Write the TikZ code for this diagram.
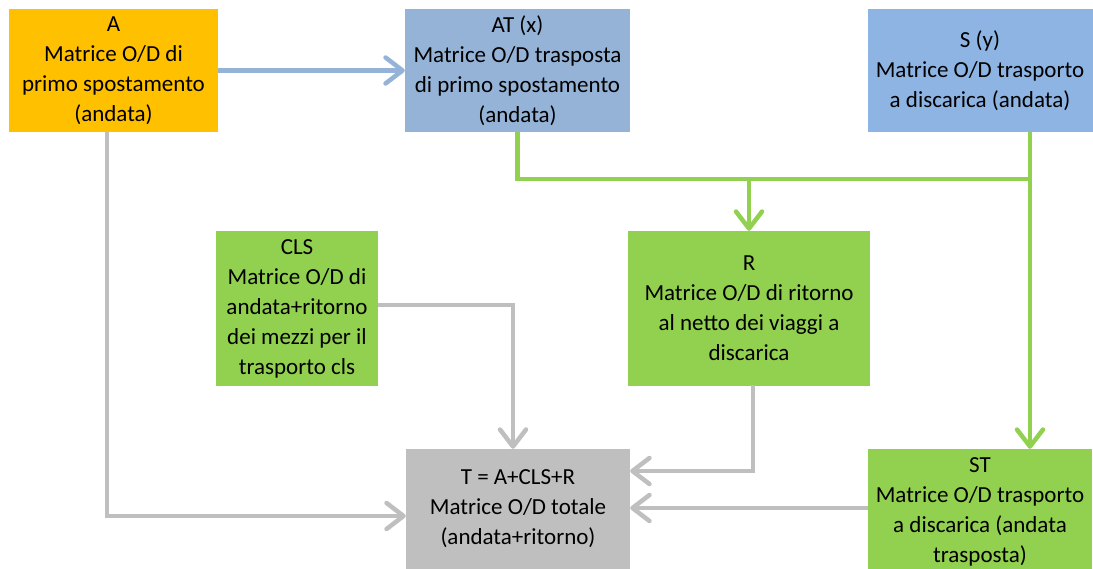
\documentclass[tikz,border=0pt]{standalone}
\usepackage{fontspec}
\setmainfont{Carlito}
\usetikzlibrary{arrows.meta}
\definecolor{cA}{HTML}{FFC000}
\definecolor{cAT}{HTML}{95B3D7}
\definecolor{cS}{HTML}{8DB4E2}
\definecolor{cG}{HTML}{92D050}
\definecolor{cGr}{HTML}{BFBFBF}
\tikzset{
  box/.style={rectangle, inner sep=0pt, align=center, font=\fontsize{23}{30}\selectfont, text=black},
  tip/.style={-{Straight Barb[length=17pt,width=26pt,round]}},
  blueline/.style={draw=cAT, line width=4.5pt},
  greenline/.style={draw=cG, line width=4.5pt},
  grayline/.style={draw=cGr, line width=4.5pt},
}
\begin{document}
\begin{tikzpicture}[x=1pt,y=-1pt]
\useasboundingbox (0,0) rectangle (1093,569);
\clip (0,0) rectangle (1093,569);
\node[box, fill=cA, minimum width=209pt, minimum height=123pt] (A) at (113.5,70.5) {A\\Matrice O/D di\\primo spostamento\\(andata)};
\node[box, fill=cAT, minimum width=225pt, minimum height=123pt] (AT) at (517.5,70.5) {AT (x)\\Matrice O/D trasposta\\di primo spostamento\\(andata)};
\node[box, fill=cS, minimum width=225pt, minimum height=123pt] (S) at (980,70.5) {S (y)\\Matrice O/D trasporto\\a discarica (andata)};
\node[box, fill=cG, minimum width=162pt, minimum height=155pt] (CLS) at (297,308.5) {CLS\\Matrice O/D di\\andata+ritorno\\dei mezzi per il\\ trasporto cls};
\node[box, fill=cG, minimum width=242pt, minimum height=155pt] (R) at (749,308.5) {R\\Matrice O/D di ritorno\\al netto dei viaggi a\\discarica};
\node[box, fill=cGr, minimum width=224pt, minimum height=120pt] (T) at (518,509) {T = A+CLS+R\\Matrice O/D totale\\(andata+ritorno)};
\node[box, fill=cG, minimum width=224pt, minimum height=125pt] (ST) at (980,511.5) {ST\\Matrice O/D trasporto\\a discarica (andata\\trasposta)};
% helper coordinates
\coordinate (j1) at (517.5,179);
\coordinate (j2) at (1030,179);
\coordinate (j3) at (749,179);
\coordinate (a1) at (107,132);
\coordinate (a2) at (107,516);
\coordinate (c1) at (378,305);
\coordinate (c2) at (513,305);
\coordinate (r1) at (753,385);
\coordinate (r2) at (753,471);
\coordinate (s1) at (868,508);
% connectors
\draw[blueline, tip] (A.east) -- (AT.west);
\draw[greenline] (AT.south) -- (j1) -- (j2);
\draw[greenline] (S.south -| j2) -- (j2);
\draw[greenline, tip] (j3) -- (R.north);
\draw[greenline, tip] (j2) -- (ST.north -| j2);
\draw[grayline, tip] (a1) -- (a2) -- (T.west |- a2);
\draw[grayline, tip] (c1) -- (c2) -- (T.north -| c2);
\draw[grayline, tip] (r1) -- (r2) -- (T.east |- r2);
\draw[grayline, tip] (s1) -- (T.east |- s1);
\end{tikzpicture}
\end{document}
